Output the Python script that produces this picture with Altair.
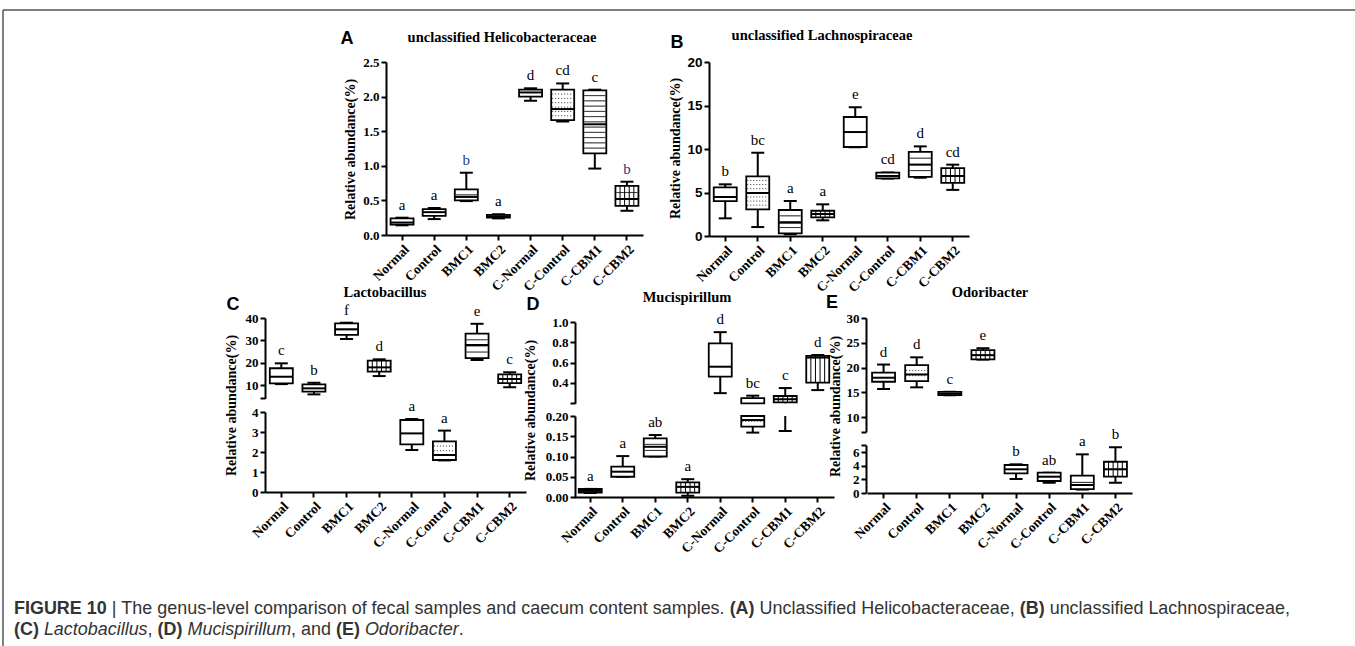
import altair as alt
import pandas as pd

W, H = 1355, 646
SERIF = "Liberation Serif"
SANS = "Liberation Sans"

GROUPS = ["Normal", "Control", "BMC1", "BMC2", "C-Normal", "C-Control", "C-CBM1", "C-CBM2"]

# ---- Panel A: unclassified Helicobacteraceae ----
A_MIN = [0.14, 0.23, 0.49, 0.24, 1.94, 1.64, 0.96, 0.35]
A_Q1 = [0.15, 0.275, 0.50, 0.25, 2.00, 1.66, 1.18, 0.42]
A_MED = [0.18, 0.33, 0.55, 0.27, 2.06, 1.82, 1.60, 0.52]
A_Q3 = [0.24, 0.375, 0.66, 0.29, 2.10, 2.10, 2.09, 0.71]
A_MAX = [0.25, 0.39, 0.90, 0.30, 2.12, 2.19, 2.10, 0.77]
A_LET = ["a", "a", "b", "a", "d", "cd", "c", "b"]
A_PAT = ["plain", "dotted", "hlines", "dashed", "plain", "dotted", "hlines", "grid"]

# ---- Panel B: unclassified Lachnospiraceae ----
B_MIN = [2.03, 1.03, 0.20, 1.80, 10.20, 6.60, 6.70, 5.30]
B_Q1 = [4.00, 3.07, 0.30, 2.14, 10.23, 6.63, 6.80, 6.10]
B_MED = [4.48, 4.94, 1.53, 2.53, 11.95, 6.90, 8.20, 6.90]
B_Q3 = [5.60, 6.86, 2.99, 2.90, 13.68, 7.28, 9.66, 7.80]
B_MAX = [5.94, 9.57, 4.02, 3.64, 14.80, 7.30, 10.30, 8.20]
B_LET = ["b", "bc", "a", "a", "e", "cd", "d", "cd"]
B_PAT = ["plain", "dotted", "hlines", "grid", "plain", "dotted", "hlines", "vlines"]

# ---- Panel C: Lactobacillus ----
C_MIN = [10.4, 5.8, 30.6, 14.0, 2.10, 1.58, 21.2, 9.0]
C_Q1 = [10.75, 7.0, 32.4, 16.0, 2.38, 1.60, 22.0, 10.8]
C_MED = [13.7, 8.5, 34.9, 17.9, 2.93, 1.85, 27.9, 12.7]
C_Q3 = [17.5, 10.3, 37.6, 20.9, 3.60, 2.53, 33.0, 14.8]
C_MAX = [19.7, 11.0, 37.9, 21.5, 3.65, 3.07, 37.4, 15.7]
C_LET = ["c", "b", "f", "d", "a", "a", "e", "c"]
C_PAT = ["plain", "dotted", "hlines", "vlines", "plain", "dotted", "hlines", "grid"]

# ---- Panel D: Mucispirillum ----
D_MIN = [0.010, 0.050, 0.100, 0.003, 0.30, 0.159, 0.163, 0.33]
D_Q1 = [0.0106, 0.050, 0.100, 0.011, 0.462, 0.174, 0.21, 0.403]
D_MED = [0.015, 0.0625, 0.124, 0.025, 0.56, 0.19, 0.24, 0.65]
D_Q3 = [0.0198, 0.075, 0.145, 0.036, 0.79, 0.25, 0.272, 0.666]
D_MAX = [0.020, 0.101, 0.153, 0.044, 0.90, 0.275, 0.35, 0.675]
D_LET = ["a", "a", "ab", "a", "d", "bc", "c", "d"]
D_PAT = ["plain", "dotted", "hlines", "grid", "plain", "dotted", "grid", "vlines"]

# ---- Panel E: Odoribacter ----
E_MIN = [15.66, 16.0, 14.4, 21.6, 2.05, 1.50, 0.50, 1.50]
E_Q1 = [17.13, 17.27, 14.44, 21.65, 2.88, 1.76, 0.58, 2.39]
E_MED = [17.94, 18.6, 14.7, 22.5, 3.47, 2.39, 1.17, 3.47]
E_Q3 = [18.95, 20.5, 15.1, 23.5, 4.10, 2.97, 2.53, 4.58]
E_MAX = [20.6, 22.06, 15.1, 23.9, 4.20, 2.97, 5.66, 6.70]
E_LET = ["d", "d", "c", "e", "b", "ab", "a", "b"]
E_PAT = ["plain", "dotted", "plain", "grid", "plain", "dotted", "hlines", "grid"]

Y_TITLE = "Relative abundance(%)"

CAPTION_1 = [("FIGURE 10", "bold", "normal"), (" | ", "normal", "normal"),
             ("The genus-level comparison of fecal samples and caecum content samples. ", "normal", "normal"),
             ("(A)", "bold", "normal"), (" Unclassified Helicobacteraceae, ", "normal", "normal"),
             ("(B)", "bold", "normal"), (" unclassified Lachnospiraceae,", "normal", "normal")]
CAPTION_2 = [("(C)", "bold", "normal"), (" ", "normal", "normal"), ("Lactobacillus", "normal", "italic"),
             (", ", "normal", "normal"), ("(D)", "bold", "normal"), (" ", "normal", "normal"),
             ("Mucispirillum", "normal", "italic"), (", and ", "normal", "normal"),
             ("(E)", "bold", "normal"), (" ", "normal", "normal"), ("Odoribacter", "normal", "italic"),
             (".", "normal", "normal")]


def make_df(mn, q1, med, q3, mx, letters, pats, lcolors=None):
    return pd.DataFrame({
        "group": GROUPS, "min": mn, "q1": q1, "med": med, "q3": q3, "max": mx,
        "letter": letters, "pattern": pats,
        "lcolor": lcolors if lcolors else ["black"] * len(GROUPS),
    })


def hatch_df(df, lo, hi, ppu):
    rows = []
    spec = {"hlines": ("solid", 5.0), "grid": ("solid", 6.0), "dotted": ("dot", 4.0), "dashed": ("dash", 3.0)}
    for _, r in df.iterrows():
        if r["pattern"] not in spec:
            continue
        kind, sp = spec[r["pattern"]]
        a, b = max(r["q1"], lo), min(r["q3"], hi)
        if b <= a:
            continue
        n = int((b - a) * ppu / sp) - 1
        for i in range(1, n + 1):
            rows.append({"group": r["group"], "v": a + (b - a) * i / (n + 1), "kind": kind})
    if not rows:
        rows = [{"group": GROUPS[0], "v": lo, "kind": "none"}]
    return pd.DataFrame(rows)


def yaxis(values, fmt, axis_x, font=SERIF, size=13, title_x=None, title_y=None, hide=None):
    kw = dict(orient="left", offset=-axis_x, values=values, format=fmt, grid=False, zindex=2,
              domainColor="black", domainWidth=2, tickColor="black", tickWidth=2, tickSize=5,
              labelFont=font, labelFontSize=size, labelFontWeight="bold", labelColor="black",
              labelPadding=2, labelOverlap=False)
    if hide is not None:
        kw["labelExpr"] = f"abs(datum.value - {hide}) < 1e-9 ? '' : datum.label"
    if title_x is not None:
        kw.update(title=Y_TITLE, titleX=title_x, titleY=title_y, titleFont=SERIF, titleFontSize=14,
                  titleFontWeight="bold", titleColor="black", titleBaseline="middle",
                  titleAngle=270, titleAlign="center")
    else:
        kw.update(title="")
    return alt.Axis(**kw)


def xaxis(axis_y):
    return alt.Axis(orient="bottom", offset=axis_y - H, labelAngle=-45, grid=False, zindex=2, title="",
                    domainColor="black", domainWidth=2, tickColor="black", tickWidth=2, tickSize=5,
                    labelFont=SERIF, labelFontSize=13.5, labelFontWeight="bold", labelColor="black",
                    labelPadding=2, labelOverlap=False)


def segment(df, xr, yd, yr, y_axis, x_axis=None):
    """Returns a flat list of unit charts; each carries the same explicit scales."""
    lo, hi = yd
    ppu = (yr[0] - yr[1]) / (hi - lo)

    def X(axis=None):
        return alt.X("group:N", axis=axis,
                     scale=alt.Scale(domain=GROUPS, range=xr, paddingInner=0, paddingOuter=0))

    def Y(f, axis=None):
        return alt.Y(f + ":Q", axis=axis,
                     scale=alt.Scale(domain=[lo, hi], range=yr, clamp=True, nice=False, zero=False))

    base = alt.Chart(df)
    inside = lambda f: f"datum.{f} >= {lo} && datum.{f} <= {hi}"
    out = []
    out.append(base.mark_rule(opacity=0).encode(x=X(x_axis), y=Y("med", y_axis)))
    out.append(base.transform_filter(f"datum.max > {lo} && datum.min < {hi}")
               .mark_rule(color="black", strokeWidth=2)
               .encode(x=X(), y=Y("min"), y2=alt.Y2("max")))
    for f in ("max", "min"):
        out.append(base.transform_filter(inside(f))
                   .mark_rule(color="black", strokeWidth=2, xOffset=-6.5, x2Offset=6.5)
                   .encode(x=X(), x2=alt.X2("group"), y=Y(f)))
    out.append(base.transform_filter(f"datum.q3 > {lo} && datum.q1 < {hi}")
               .mark_bar(size=23, fill="white", stroke="black", strokeWidth=1.8)
               .encode(x=X(), y=Y("q1"), y2=alt.Y2("q3")))
    hd = alt.Chart(hatch_df(df, lo, hi, ppu))
    for kind, dash, col in (("solid", [1, 0], "black"), ("dot", [1, 2], "#333333"), ("dash", [3, 2], "#333333")):
        out.append(hd.transform_filter(f"datum.kind == '{kind}'")
                   .mark_rule(color=col, strokeWidth=1, strokeDash=dash, xOffset=-10.5, x2Offset=10.5)
                   .encode(x=X(), x2=alt.X2("group"), y=Y("v")))
    for o in (-6.9, -2.3, 2.3, 6.9):
        out.append(base.transform_filter(
            f"(datum.pattern == 'vlines' || datum.pattern == 'grid') && datum.q3 > {lo} && datum.q1 < {hi}")
            .mark_rule(color="black", strokeWidth=1, xOffset=o)
            .encode(x=X(), y=Y("q1"), y2=alt.Y2("q3")))
    out.append(base.transform_filter(inside("med"))
               .mark_rule(color="black", strokeWidth=2, xOffset=-11.5, x2Offset=11.5)
               .encode(x=X(), x2=alt.X2("group"), y=Y("med")))
    out.append(base.transform_filter(inside("max"))
               .mark_text(dy=-8, baseline="alphabetic", font=SERIF, fontSize=15)
               .encode(x=X(), y=Y("max"), text="letter:N", color=alt.Color("lcolor:N", scale=None)))
    return out


def label(text, x, y, size, font=SERIF, weight="bold", style="normal", align="center",
          baseline="middle", color="black"):
    return (alt.Chart(pd.DataFrame({"t": [text]}))
            .mark_text(align=align, baseline=baseline, font=font, fontSize=size,
                       fontWeight=weight, fontStyle=style, color=color)
            .encode(x=alt.value(x), y=alt.value(y), text="t:N"))


# Arial / Helvetica advance widths (1/1000 em), used only to flow the caption runs
REG = {" ": 278, "(": 333, ")": 333, ",": 278, "-": 333, ".": 278, "|": 260,
       "A": 667, "B": 667, "C": 722, "D": 722, "E": 667, "H": 722, "L": 556, "M": 833, "O": 778,
       "T": 611, "U": 722, "a": 556, "b": 556, "c": 500, "d": 556, "e": 556, "f": 278, "g": 556,
       "h": 556, "i": 222, "l": 222, "m": 833, "n": 556, "o": 556, "p": 556, "r": 333, "s": 500,
       "t": 278, "u": 556, "v": 500}
BOLD = {" ": 278, "(": 333, ")": 333, "A": 722, "B": 722, "C": 722, "D": 722, "E": 667, "F": 611,
        "G": 778, "I": 278, "R": 722, "U": 722, "0": 556, "1": 556}


def run_width(text, weight):
    table = BOLD if weight == "bold" else REG
    return sum(table.get(ch, 556) for ch in text) / 1000.0


def caption_layers(runs, x0, y, size, color):
    out, x = [], x0
    for text, weight, style in runs:
        if text.strip():
            lead = text[:len(text) - len(text.lstrip())]
            out.append(label(text.strip(), x + run_width(lead, weight) * size, y, size, font=SANS,
                             weight=weight, style=style, align="left", baseline="alphabetic", color=color))
        x += run_width(text, weight) * size
    return out


dfA = make_df(A_MIN, A_Q1, A_MED, A_Q3, A_MAX, A_LET, A_PAT,
              ["black", "black", "#2b3b8a", "black", "black", "black", "black", "#2b3b8a"])
dfB = make_df(B_MIN, B_Q1, B_MED, B_Q3, B_MAX, B_LET, B_PAT)
dfC = make_df(C_MIN, C_Q1, C_MED, C_Q3, C_MAX, C_LET, C_PAT)
dfD = make_df(D_MIN, D_Q1, D_MED, D_Q3, D_MAX, D_LET, D_PAT)
dfE = make_df(E_MIN, E_Q1, E_MED, E_Q3, E_MAX, E_LET, E_PAT)

units = []
units += segment(dfA, [386, 643], [0, 2.5], [235, 62],
                 yaxis([0, 0.5, 1.0, 1.5, 2.0, 2.5], ".1f", 386, title_x=-36, title_y=149), xaxis(235))
units += segment(dfB, [709, 969], [0, 20], [236, 62],
                 yaxis([0, 5, 10, 15, 20], "d", 709, font=SANS, size=13.5, title_x=-34, title_y=148), xaxis(236))
units += segment(dfC, [265, 526], [4, 40], [398.4, 318], yaxis([4, 10, 20, 30, 40], "d", 265, hide=4))
units += segment(dfC, [265, 526], [0, 4], [492, 412],
                 yaxis([0, 1, 2, 3, 4], "d", 265, title_x=-34, title_y=405), xaxis(492))
units += segment(dfD, [574, 834], [0.2, 1.0], [403.3, 322],
                 yaxis([0.2, 0.4, 0.6, 0.8, 1.0], ".1f", 575, hide=0.2))
units += segment(dfD, [574, 834], [0, 0.2], [497, 416],
                 yaxis([0, 0.05, 0.10, 0.15, 0.20], ".2f", 575, title_x=-45, title_y=410), xaxis(497))
units += segment(dfE, [867, 1132], [7, 30], [431.9, 318],
                 yaxis([7, 10, 15, 20, 25, 30], "d", 866, hide=7))
units += segment(dfE, [867, 1132], [0, 7], [493, 445.2],
                 yaxis([0, 2, 4, 6, 7], "d", 866, title_x=-31, title_y=406, hide=7), xaxis(493))

one = pd.DataFrame({"k": [0]})
frame = [
    alt.Chart(one).mark_rule(color="#555555", strokeWidth=1.5)
    .encode(x=alt.value(3), x2=alt.value(W), y=alt.value(10)),
    alt.Chart(one).mark_rule(color="#555555", strokeWidth=1.5)
    .encode(x=alt.value(3), y=alt.value(10), y2=alt.value(H)),
]

titles = [
    label("A", 347, 39, 18, font=SANS),
    label("unclassified Helicobacteraceae", 502, 38, 14.5),
    label("B", 677, 43, 18, font=SANS),
    label("unclassified Lachnospiraceae", 822, 36, 14.5),
    label("C", 233, 305, 18, font=SANS),
    label("Lactobacillus", 385, 293, 14.5),
    label("D", 533, 305, 18, font=SANS),
    label("Mucispirillum", 687, 298, 14.5),
    label("E", 832, 303, 18, font=SANS),
    label("Odoribacter", 990, 293, 14.5),
]

CAP_SIZE = (1290 - 14) / sum(run_width(t, w) for t, w, s in CAPTION_1)
caption = caption_layers(CAPTION_1, 14, 614, CAP_SIZE, "#333333") + \
    caption_layers(CAPTION_2, 14, 635, CAP_SIZE, "#333333")

chart = (
    alt.layer(*units, *frame, *titles, *caption)
    .resolve_scale(x="independent", y="independent")
    .resolve_axis(x="independent", y="independent")
    .properties(width=W, height=H, padding=0, autosize=alt.AutoSizeParams(type="none"),
                background="white")
    .configure_view(stroke=None)
)

chart.save("out.html", embed_options={"renderer": "svg", "actions": False})
